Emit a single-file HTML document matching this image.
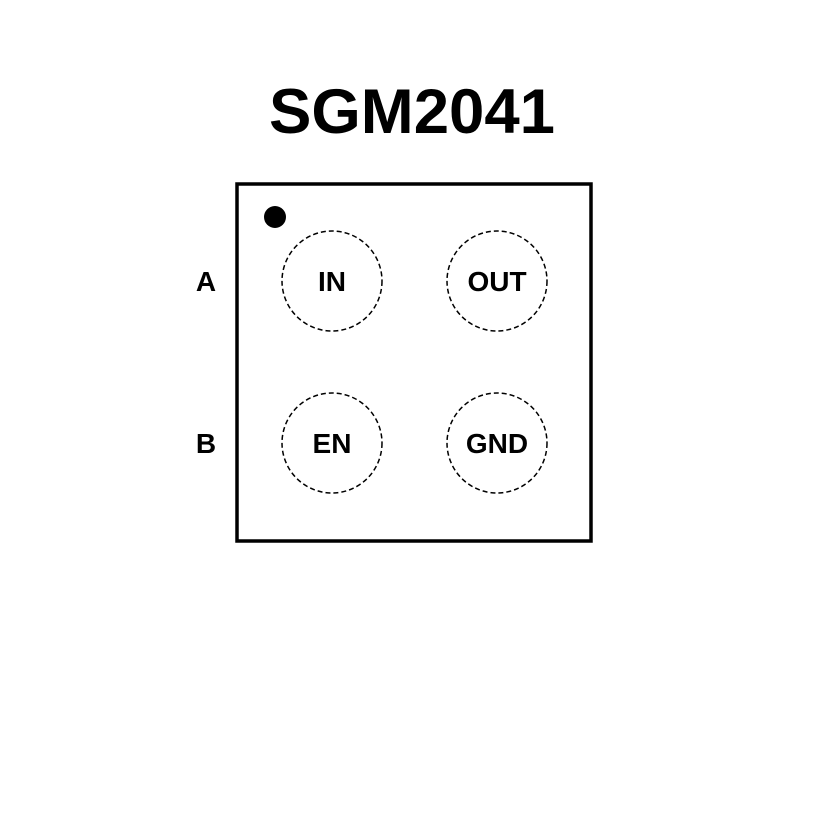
<!DOCTYPE html>
<html><head><style>body{margin:0;background:#fff}</style></head><body>
<svg width="827" height="827" xmlns="http://www.w3.org/2000/svg">
<rect width="827" height="827" fill="#fff"/>
<text x="412" y="133" text-anchor="middle" font-family="Liberation Sans, sans-serif" font-weight="bold" font-size="63" textLength="286" lengthAdjust="spacingAndGlyphs">SGM2041</text>
<rect x="237" y="184" width="354" height="357" fill="none" stroke="#000" stroke-width="3.5"/>
<circle cx="275" cy="217" r="11" fill="#000"/>
<g fill="none" stroke="#000" stroke-width="1.5" stroke-dasharray="5,3">
<circle cx="332" cy="281" r="50"/><circle cx="497" cy="281" r="50"/>
<circle cx="332" cy="443" r="50"/><circle cx="497" cy="443" r="50"/>
</g>
<g font-family="Liberation Sans, sans-serif" font-weight="bold" font-size="28" text-anchor="middle">
<text x="332" y="291">IN</text><text x="497" y="291">OUT</text>
<text x="332" y="453">EN</text><text x="497" y="453">GND</text>
<text x="206" y="291">A</text><text x="206" y="453">B</text>
</g>
</svg>
</body></html>
